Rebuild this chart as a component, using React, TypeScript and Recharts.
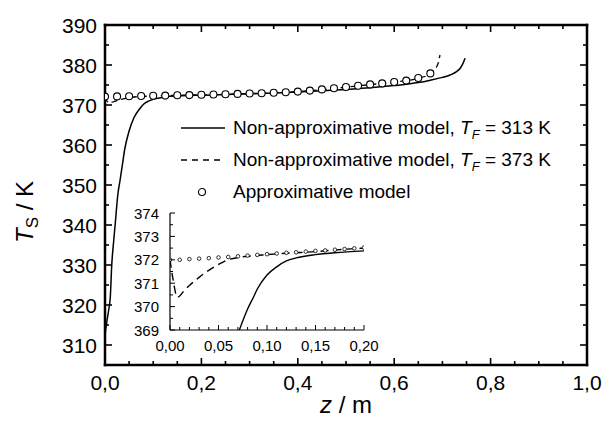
import React from 'react';
import { LineChart, Line, XAxis, YAxis } from 'recharts';

const FONT = '"Liberation Sans", Arial, Helvetica, sans-serif';

// ---------- main chart data ----------
const solidZ = [0, 0.004, 0.008, 0.011, 0.014, 0.018, 0.021, 0.027, 0.031, 0.036, 0.041, 0.05, 0.06, 0.073, 0.08, 0.09, 0.1, 0.11, 0.12, 0.13, 0.15, 0.2, 0.25, 0.3, 0.35, 0.4, 0.45, 0.5, 0.55, 0.6, 0.65, 0.675, 0.7, 0.716, 0.73, 0.737, 0.742, 0.747];
const solidT = [312.5, 316, 319, 322, 330, 336, 340, 348, 351, 355, 359, 363.5, 366.8, 369.2, 370.2, 370.95, 371.4, 371.7, 371.95, 372.1, 372.25, 372.45, 372.6, 372.8, 373.0, 373.25, 373.55, 373.9, 374.3, 374.85, 375.6, 376.2, 376.9, 377.5, 378.4, 379.2, 380.2, 381.7];

const dashedZ = [0, 0.004, 0.008, 0.02, 0.03, 0.04, 0.05, 0.06, 0.1, 0.2, 0.3, 0.4, 0.45, 0.5, 0.55, 0.6, 0.65, 0.675, 0.685, 0.691, 0.695];
const dashedT = [372.0, 371.0, 370.5, 370.9, 371.3, 371.6, 371.85, 372.0, 372.25, 372.52, 372.84, 373.33, 373.85, 374.45, 375.1, 375.7, 376.7, 377.8, 379.0, 380.4, 382.5];

const circleZ = [0, 0.025, 0.05, 0.075, 0.1, 0.125, 0.15, 0.175, 0.2, 0.225, 0.25, 0.275, 0.3, 0.325, 0.35, 0.375, 0.4, 0.425, 0.45, 0.475, 0.5, 0.525, 0.55, 0.575, 0.6, 0.625, 0.65, 0.675];
const circleT = [372.1, 372.15, 372.2, 372.25, 372.3, 372.35, 372.42, 372.48, 372.55, 372.62, 372.7, 372.78, 372.86, 372.95, 373.05, 373.2, 373.35, 373.6, 373.9, 374.2, 374.5, 374.8, 375.15, 375.4, 375.75, 376.1, 376.75, 377.9];

const mainXMajor = [0, 0.2, 0.4, 0.6, 0.8, 1.0];
const mainXAll = [0, 0.05, 0.1, 0.15, 0.2, 0.25, 0.3, 0.35, 0.4, 0.45, 0.5, 0.55, 0.6, 0.65, 0.7, 0.75, 0.8, 0.85, 0.9, 0.95, 1.0];
const mainYMajor = [310, 320, 330, 340, 350, 360, 370, 380, 390];
const mainYAll = [305, 310, 315, 320, 325, 330, 335, 340, 345, 350, 355, 360, 365, 370, 375, 380, 385, 390];

// ---------- inset data ----------
const insetSolidZ = [0.0715, 0.08, 0.086, 0.09, 0.1, 0.11, 0.12, 0.13, 0.15, 0.17, 0.2];
const insetSolidT = [369.0, 369.9, 370.4, 370.75, 371.35, 371.7, 371.95, 372.08, 372.22, 372.3, 372.38];

const insetDashedZ = [0, 0.003, 0.0075, 0.015, 0.02, 0.03, 0.04, 0.05, 0.06, 0.07, 0.08, 0.1, 0.12, 0.15, 0.18, 0.2];
const insetDashedT = [372.0, 371.2, 370.4, 370.7, 370.9, 371.25, 371.55, 371.8, 372.0, 372.1, 372.15, 372.22, 372.28, 372.35, 372.45, 372.5];

const insetCircleZ = [0, 0.01, 0.02, 0.03, 0.04, 0.05, 0.06, 0.07, 0.08, 0.09, 0.1, 0.11, 0.12, 0.13, 0.14, 0.15, 0.16, 0.17, 0.18, 0.19, 0.2];
const insetCircleT = [372.0, 372.0, 372.03, 372.05, 372.07, 372.1, 372.12, 372.15, 372.18, 372.21, 372.24, 372.27, 372.3, 372.32, 372.35, 372.38, 372.4, 372.43, 372.46, 372.49, 372.52];

const insetXMajor = [0, 0.05, 0.1, 0.15, 0.2];
const insetXAll = [0, 0.01, 0.02, 0.03, 0.04, 0.05, 0.06, 0.07, 0.08, 0.09, 0.1, 0.11, 0.12, 0.13, 0.14, 0.15, 0.16, 0.17, 0.18, 0.19, 0.2];
const insetYMajor = [369, 370, 371, 372, 373, 374];
const insetYAll = [369, 369.5, 370, 370.5, 371, 371.5, 372, 372.5, 373, 373.5, 374];

const legendLabels = ['313', '373'];

const zip = (zs: number[], ts: number[]) => zs.map((z, i) => ({ z, T: ts[i] }));

const solidData = zip(solidZ, solidT);
const dashedData = zip(dashedZ, dashedT);
const circleData = zip(circleZ, circleT);
const insetSolidData = zip(insetSolidZ, insetSolidT);
const insetDashedData = zip(insetDashedZ, insetDashedT);
const insetCircleData = zip(insetCircleZ, insetCircleT);

const isIn = (arr: number[], v: number) => arr.some((m) => Math.abs(m - v) < 1e-9);
const fmt = (v: number, d: number) => v.toFixed(d).replace('.', ',');

// ---------- tick renderers ----------
const MainBottomTick = (p: any) => {
  const { x, y, payload } = p;
  const major = isIn(mainXMajor, payload.value);
  return (
    <g>
      <line x1={x} x2={x} y1={y} y2={y - (major ? 7 : 4)} stroke="#000" strokeWidth={1.6} />
      {major && (
        <text x={x} y={y + 25} textAnchor="middle" fontSize={21} fontFamily={FONT} fill="#000">
          {fmt(payload.value, 1)}
        </text>
      )}
    </g>
  );
};
const MainTopTick = (p: any) => {
  const { x, y, payload } = p;
  const major = isIn(mainXMajor, payload.value);
  return <line x1={x} x2={x} y1={y} y2={y + (major ? 7 : 4)} stroke="#000" strokeWidth={1.6} />;
};
const MainLeftTick = (p: any) => {
  const { x, y, payload } = p;
  const major = isIn(mainYMajor, payload.value);
  return (
    <g>
      <line x1={x} x2={x + (major ? 7 : 4)} y1={y} y2={y} stroke="#000" strokeWidth={1.6} />
      {major && (
        <text x={x - 8} y={y + 7.5} textAnchor="end" fontSize={21} fontFamily={FONT} fill="#000">
          {payload.value}
        </text>
      )}
    </g>
  );
};
const MainRightTick = (p: any) => {
  const { x, y, payload } = p;
  const major = isIn(mainYMajor, payload.value);
  return <line x1={x} x2={x - (major ? 7 : 4)} y1={y} y2={y} stroke="#000" strokeWidth={1.6} />;
};
const InsetBottomTick = (p: any) => {
  const { x, y, payload } = p;
  const major = isIn(insetXMajor, payload.value);
  return (
    <g>
      <line x1={x} x2={x} y1={y} y2={y - (major ? 5 : 3)} stroke="#000" strokeWidth={1} />
      {major && (
        <text x={x} y={y + 21} textAnchor="middle" fontSize={15} fontFamily={FONT} fill="#000">
          {fmt(payload.value, 2)}
        </text>
      )}
    </g>
  );
};
const InsetLeftTick = (p: any) => {
  const { x, y, payload } = p;
  const major = isIn(insetYMajor, payload.value);
  return (
    <g>
      <line x1={x} x2={x + (major ? 5 : 3)} y1={y} y2={y} stroke="#000" strokeWidth={1} />
      {major && (
        <text x={x - 11} y={y + 5.5} textAnchor="end" fontSize={15} fontFamily={FONT} fill="#000">
          {payload.value}
        </text>
      )}
    </g>
  );
};

const XLabel = (p: any) => {
  const vb = p.viewBox || { x: 105, y: 365, width: 482 };
  return (
    <text x={vb.x + vb.width / 2} y={365 + 48} textAnchor="middle" fontSize={24} fontFamily={FONT} fill="#000">
      <tspan fontStyle="italic">z</tspan>
      <tspan> / m</tspan>
    </text>
  );
};
const YLabel = () => {
  const cx = 33;
  const cy = 212;
  return (
    <text x={cx} y={cy} transform={`rotate(-90, ${cx}, ${cy})`} textAnchor="middle" fontSize={24} fontFamily={FONT} fill="#000">
      <tspan fontStyle="italic">T</tspan>
      <tspan fontSize={17} dy={5}>S</tspan>
      <tspan dy={-5}> / K</tspan>
    </text>
  );
};

const LegendBox = () => {
  const rows = [
    { kind: 'solid', label: legendLabels[0] },
    { kind: 'dashed', label: legendLabels[1] },
    { kind: 'circle', label: '' },
  ];
  return (
    <div style={{ position: 'absolute', left: 181, top: 112, fontFamily: FONT, fontSize: 19, color: '#000' }}>
      {rows.map((r, i) => (
        <div key={i} style={{ display: 'flex', alignItems: 'center', height: 32, whiteSpace: 'nowrap' }}>
          <svg width={52} height={12} style={{ display: 'block' }}>
            {r.kind === 'solid' && <line x1={0} x2={44} y1={6} y2={6} stroke="#000" strokeWidth={1.5} />}
            {r.kind === 'dashed' && <line x1={0} x2={44} y1={6} y2={6} stroke="#000" strokeWidth={1.5} strokeDasharray="6 5" />}
            {r.kind === 'circle' && <circle cx={21} cy={6} r={3.5} fill="#fff" stroke="#000" strokeWidth={1.1} />}
          </svg>
          {r.kind !== 'circle' ? (
            <span>
              Non-approximative model, <i>T</i>
              <sub style={{ fontSize: 13, fontStyle: 'italic', lineHeight: 0 }}>F</sub> = {r.label} K
            </span>
          ) : (
            <span>Approximative model</span>
          )}
        </div>
      ))}
    </div>
  );
};

export default function App() {
  const W = 605;
  const H = 427;
  const frame = { stroke: '#000', strokeWidth: 2.5, strokeLinecap: 'square' as const };
  return (
    <div style={{ position: 'absolute', left: 0, top: 0, width: W, height: H, background: '#fff' }}>
      <div style={{ position: 'absolute', left: 0, top: 0 }}>
        <LineChart width={W} height={H} margin={{ top: 24, right: 17, bottom: 61, left: 104 }}>
          <XAxis
            xAxisId="main"
            dataKey="z"
            type="number"
            domain={[0, 1]}
            ticks={mainXAll}
            interval={0}
            allowDataOverflow
            height={1}
            tickSize={0}
            tickMargin={0}
            tickLine={false}
            tick={<MainBottomTick />}
            axisLine={frame}
            label={{ content: <XLabel /> }}
          />
          <XAxis
            xAxisId="top"
            orientation="top"
            dataKey="z"
            type="number"
            domain={[0, 1]}
            ticks={mainXAll}
            interval={0}
            allowDataOverflow
            height={1}
            tickSize={0}
            tickMargin={0}
            tickLine={false}
            tick={<MainTopTick />}
            axisLine={frame}
          />
          <YAxis
            yAxisId="main"
            type="number"
            domain={[305, 390]}
            ticks={mainYAll}
            interval={0}
            allowDataOverflow
            width={1}
            tickSize={0}
            tickMargin={0}
            tickLine={false}
            tick={<MainLeftTick />}
            axisLine={frame}
            label={{ content: <YLabel /> }}
          />
          <YAxis
            yAxisId="right"
            orientation="right"
            type="number"
            domain={[305, 390]}
            ticks={mainYAll}
            interval={0}
            allowDataOverflow
            width={1}
            tickSize={0}
            tickMargin={0}
            tickLine={false}
            tick={<MainRightTick />}
            axisLine={frame}
          />
          <Line
            xAxisId="top"
            yAxisId="right"
            data={solidData}
            dataKey="T"
            stroke="none"
            dot={false}
            legendType="none"
            isAnimationActive={false}
          />
          <Line
            xAxisId="main"
            yAxisId="main"
            data={solidData}
            dataKey="T"
            type="monotone"
            stroke="#000"
            strokeWidth={1.5}
            dot={false}
            isAnimationActive={false}
          />
          <Line
            xAxisId="main"
            yAxisId="main"
            data={dashedData}
            dataKey="T"
            type="monotone"
            stroke="#000"
            strokeWidth={1.3}
            strokeDasharray="6 4"
            dot={false}
            isAnimationActive={false}
          />
          <Line
            xAxisId="main"
            yAxisId="main"
            data={circleData}
            dataKey="T"
            stroke="none"
            dot={{ r: 3.5, fill: '#fff', stroke: '#000', strokeWidth: 1.1 }}
            isAnimationActive={false}
          />
        </LineChart>
      </div>
      <LegendBox />
      <div style={{ position: 'absolute', left: 0, top: 0, pointerEvents: 'none' }}>
        <LineChart width={W} height={H} margin={{ top: 213, right: 241, bottom: 96, left: 169 }}>
          <XAxis
            dataKey="z"
            type="number"
            domain={[0, 0.2]}
            ticks={insetXAll}
            interval={0}
            allowDataOverflow
            height={1}
            tickSize={0}
            tickMargin={0}
            tickLine={false}
            tick={<InsetBottomTick />}
            axisLine={{ stroke: '#000', strokeWidth: 1.2 }}
          />
          <YAxis
            type="number"
            domain={[369, 374]}
            ticks={insetYAll}
            interval={0}
            allowDataOverflow
            width={1}
            tickSize={0}
            tickMargin={0}
            tickLine={false}
            tick={<InsetLeftTick />}
            axisLine={{ stroke: '#000', strokeWidth: 1.2 }}
          />
          <Line
            data={insetSolidData}
            dataKey="T"
            type="monotone"
            stroke="#000"
            strokeWidth={1.4}
            dot={false}
            isAnimationActive={false}
          />
          <Line
            data={insetDashedData}
            dataKey="T"
            type="monotone"
            stroke="#000"
            strokeWidth={1.4}
            strokeDasharray="8 5"
            dot={false}
            isAnimationActive={false}
          />
          <Line
            data={insetCircleData}
            dataKey="T"
            stroke="none"
            dot={{ r: 1.8, fill: '#fff', stroke: '#000', strokeWidth: 0.8 }}
            isAnimationActive={false}
          />
        </LineChart>
      </div>
    </div>
  );
}
